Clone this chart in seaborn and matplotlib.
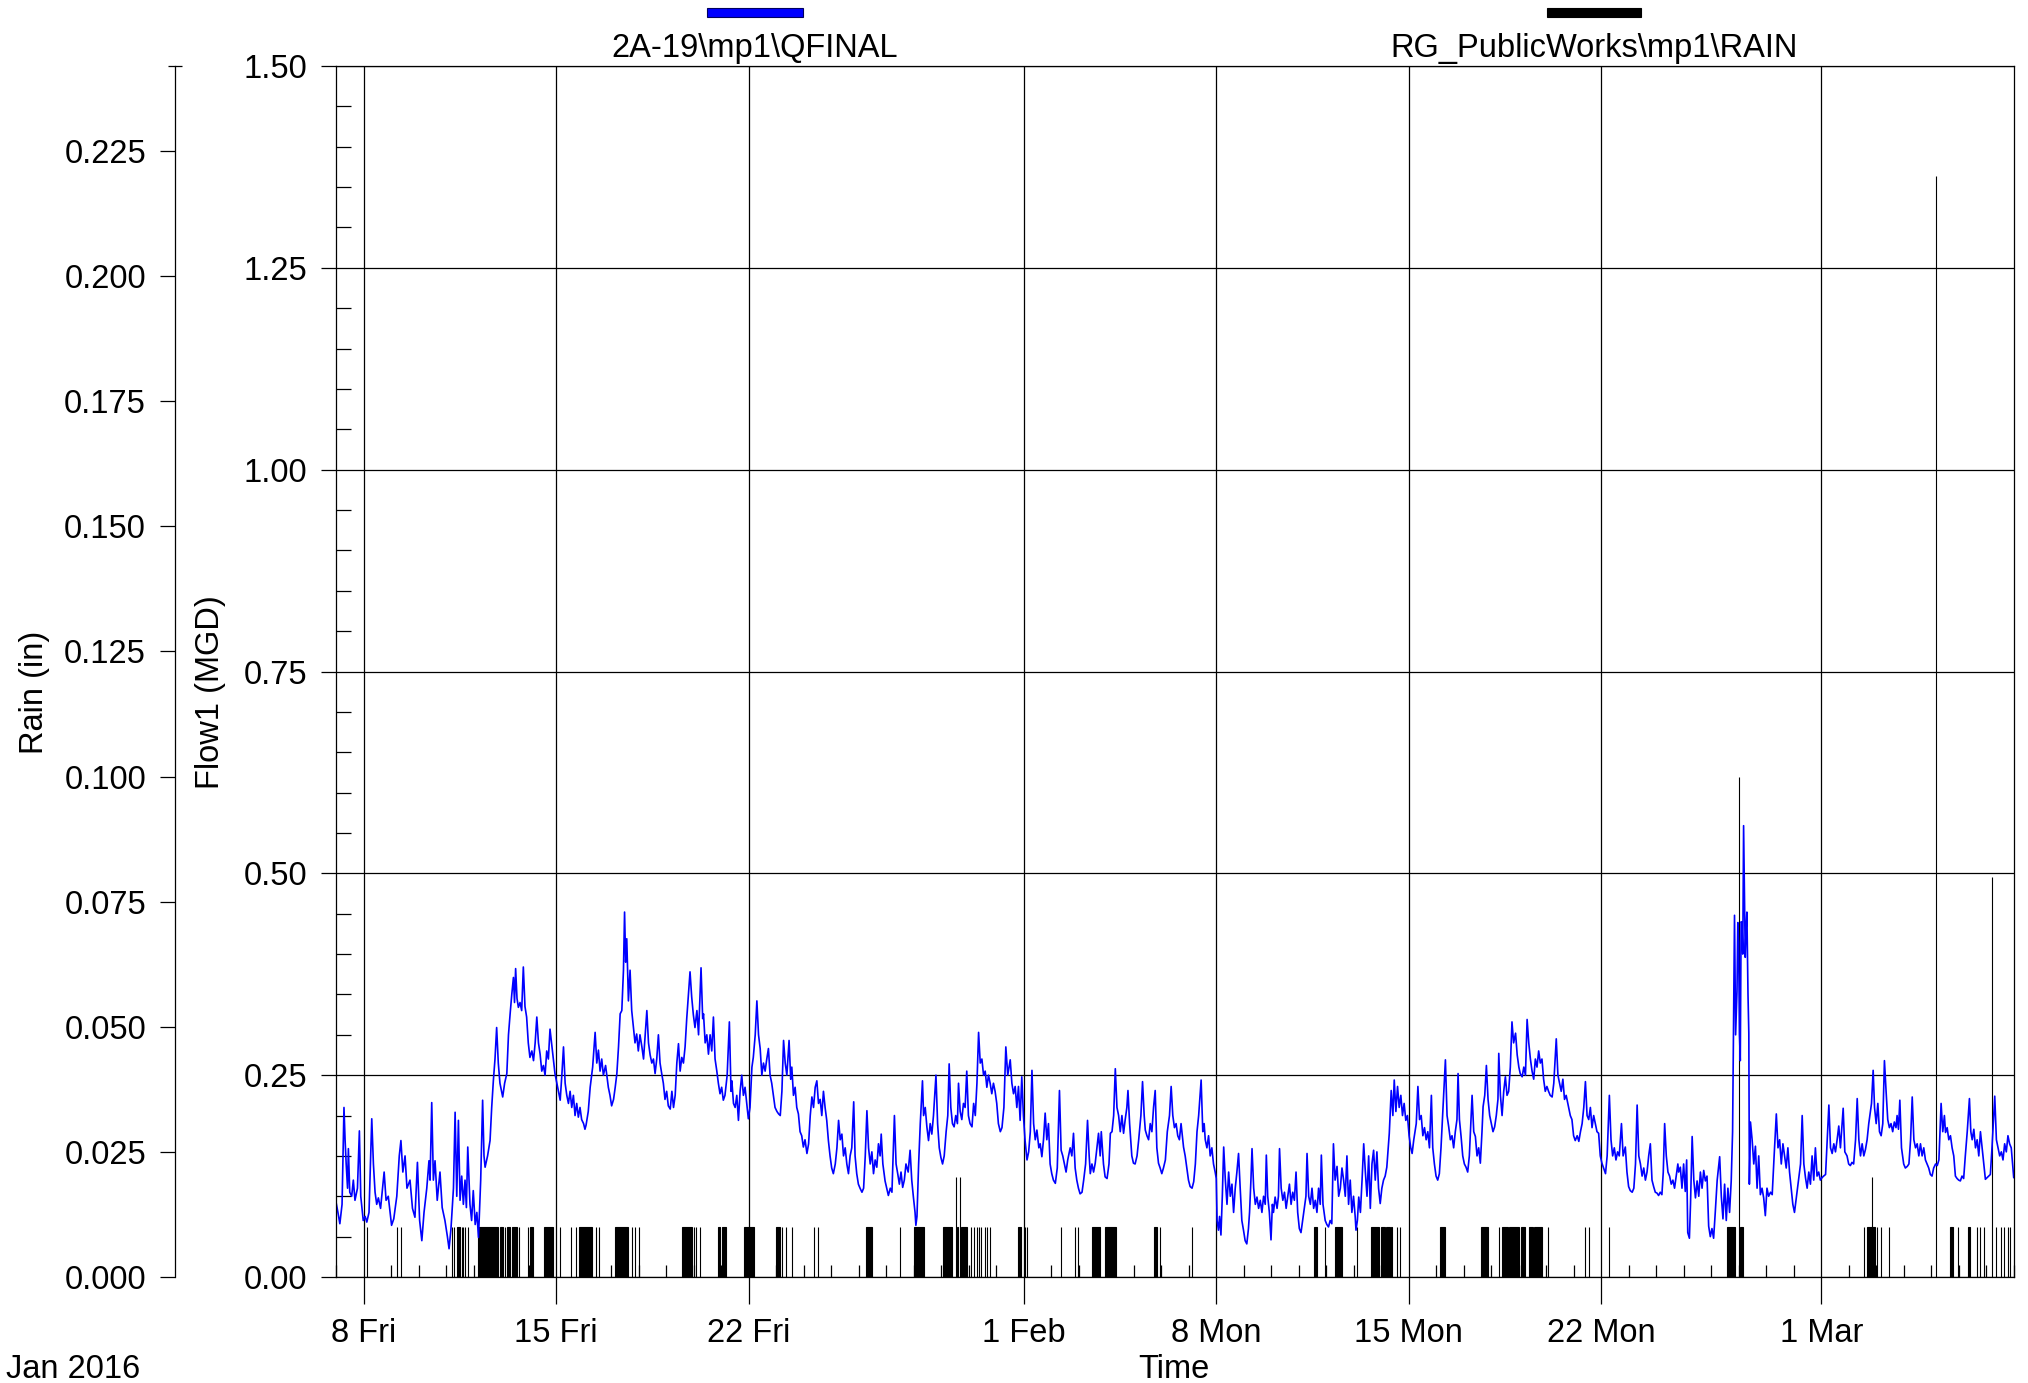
import numpy as np
import pandas as pd
import matplotlib
matplotlib.use("Agg")
import matplotlib.pyplot as plt
import matplotlib.dates as mdates
from matplotlib.ticker import FixedLocator, MultipleLocator, FormatStrFormatter
from matplotlib.patches import Rectangle
import seaborn as sns

# ---------------- data ----------------
START = "2016-01-07"          # left edge of the time axis
END = "2016-03-08"

series_names = [r"2A-19\mp1\QFINAL", r"RG_PublicWorks\mp1\RAIN"]
series_colors = ["#0000FF", "#000000"]

xtick_dates = ["2016-01-08", "2016-01-15", "2016-01-22", "2016-02-01",
               "2016-02-08", "2016-02-15", "2016-02-22", "2016-03-01"]
xtick_labels = ["8 Fri", "15 Fri", "22 Fri", "1 Feb", "8 Mon", "15 Mon", "22 Mon", "1 Mar"]
flow_ticks = [0.00, 0.25, 0.50, 0.75, 1.00, 1.25, 1.50]
rain_ticks = [0.000, 0.025, 0.050, 0.075, 0.100, 0.125, 0.150, 0.175, 0.200, 0.225]
rain_top = 0.242

# flow (MGD), time in days since START
flow_day = [
    0.00,0.07,0.14,0.22,0.29,0.33,0.37,0.42,0.45,0.50,
    0.57,0.63,0.69,0.78,0.85,0.90,0.99,1.06,1.12,1.20,
    1.30,1.36,1.42,1.48,1.54,1.62,1.75,1.82,1.90,2.02,
    2.10,2.21,2.30,2.36,2.43,2.51,2.58,2.69,2.78,2.87,
    2.96,3.04,3.12,3.20,3.30,3.38,3.42,3.48,3.54,3.60,
    3.68,3.78,3.86,3.96,4.05,4.11,4.18,4.27,4.33,4.39,
    4.45,4.51,4.57,4.63,4.69,4.74,4.79,4.87,4.93,4.99,
    5.06,5.12,5.18,5.26,5.33,5.38,5.42,5.51,5.60,5.66,
    5.72,5.78,5.84,5.90,5.96,6.06,6.13,6.21,6.27,6.33,
    6.39,6.45,6.49,6.53,6.58,6.63,6.69,6.75,6.81,6.87,
    6.93,6.99,7.05,7.12,7.18,7.24,7.30,7.36,7.42,7.48,
    7.54,7.60,7.66,7.72,7.78,7.84,7.90,7.96,8.03,8.15,
    8.21,8.27,8.33,8.39,8.45,8.51,8.57,8.63,8.69,8.75,
    8.81,8.87,8.93,9.00,9.05,9.09,9.17,9.24,9.33,9.42,
    9.48,9.54,9.60,9.66,9.72,9.80,9.90,9.96,10.02,10.09,
    10.15,10.21,10.27,10.33,10.39,10.45,10.49,10.53,10.57,10.63,
    10.69,10.75,10.81,10.87,10.93,10.99,11.05,11.12,11.18,11.24,
    11.30,11.36,11.42,11.48,11.54,11.60,11.66,11.72,11.78,11.84,
    11.90,11.96,12.02,12.08,12.15,
    12.21,12.27,12.33,12.39,12.45,12.51,12.57,12.63,12.69,12.75,
    12.81,12.87,12.93,12.99,13.05,13.12,13.18,13.27,13.33,13.36,
    13.42,13.48,13.54,13.60,13.66,13.72,13.78,13.84,13.90,13.96,
    14.02,14.08,14.14,14.22,14.30,14.36,14.39,14.45,14.51,14.57,
    14.63,14.69,14.75,14.81,14.87,14.93,14.99,15.05,15.12,15.17,
    15.24,15.30,15.36,15.42,15.48,15.54,15.60,15.66,15.72,15.78,
    15.84,15.90,15.96,16.03,16.09,16.15,16.21,16.27,16.33,16.39,
    16.47,16.53,16.57,16.63,16.69,16.75,16.81,16.87,16.93,16.99,
    17.05,17.12,17.18,17.24,17.30,17.36,17.42,17.48,17.54,17.60,
    17.66,17.72,17.78,17.84,17.90,17.96,18.02,18.08,18.15,18.21,
    18.27,18.33,18.39,18.45,18.51,18.57,18.63,18.69,18.75,18.82,
    18.87,18.93,18.99,19.05,19.12,19.18,19.24,19.30,19.36,19.42,
    19.48,19.54,19.60,19.66,19.72,19.78,19.82,19.88,19.96,20.02,
    20.08,20.15,20.21,20.30,20.36,20.42,20.48,20.54,20.60,20.66,
    20.72,20.80,20.87,20.93,20.99,21.05,21.08,21.12,21.18,21.24,
    21.32,21.36,21.42,21.48,21.54,21.60,21.66,21.72,21.81,21.87,
    21.93,21.99,22.05,22.11,22.18,22.24,22.29,22.35,22.41,22.47,
    22.53,22.59,22.63,22.69,22.75,22.81,22.87,22.93,22.99,23.05,
    23.12,23.18,23.24,23.30,23.36,23.42,23.48,23.54,23.60,23.66,
    23.72,23.78,23.84,23.90,23.96,24.02,24.08,24.15,24.21,24.28,
    24.35,
    24.42,24.51,24.57,24.63,24.69,24.75,24.81,24.87,24.93,24.99,
    25.05,25.12,25.18,25.24,25.30,25.36,25.42,25.48,25.55,25.60,
    25.66,25.72,25.78,25.84,25.90,25.96,26.02,26.08,26.15,26.22,
    26.30,26.36,26.42,26.48,26.54,26.60,26.69,26.75,26.81,26.87,
    26.93,26.99,27.05,27.12,27.18,27.25,27.32,27.38,27.42,27.48,
    27.54,27.60,27.66,27.72,27.78,27.82,27.90,27.96,28.03,28.10,
    28.15,28.21,28.27,28.33,28.39,28.45,28.51,28.57,28.63,28.69,
    28.75,28.79,28.85,28.93,28.99,29.05,29.12,29.18,29.26,29.32,
    29.38,29.42,29.48,29.54,29.60,29.66,29.72,29.78,29.84,29.90,
    29.96,30.02,30.08,30.15,30.22,30.30,30.36,30.42,30.48,30.54,
    30.60,30.66,30.72,30.81,30.87,30.93,30.99,31.05,31.12,31.18,
    31.24,31.30,31.36,31.45,31.51,31.56,31.60,31.66,31.72,31.78,
    31.84,31.90,31.96,32.00,32.03,32.08,32.12,32.17,32.22,32.27,
    32.33,32.39,32.45,32.51,32.57,32.63,32.69,32.75,32.81,32.87,
    32.93,32.99,33.05,33.11,33.17,33.21,33.26,33.30,33.36,33.42,
    33.48,33.54,33.60,33.66,33.72,33.78,33.82,33.87,33.93,33.99,
    34.04,34.08,34.14,34.21,34.26,34.30,34.36,34.42,34.48,34.54,
    34.60,34.66,34.72,34.78,34.84,34.90,34.96,35.02,35.08,35.14,
    35.20,35.26,35.30,35.36,35.42,35.48,35.54,35.60,35.66,35.72,
    35.78,35.82,35.88,35.96,36.02,36.08,36.14,36.20,36.26,36.32,
    36.39,36.45,36.51,36.57,36.63,
    36.69,36.75,36.81,36.87,36.93,36.99,37.05,37.08,37.13,37.18,
    37.24,37.30,37.36,37.42,37.48,37.54,37.60,37.66,37.72,37.78,
    37.84,37.90,37.96,38.02,38.08,38.14,38.20,38.25,38.29,38.36,
    38.42,38.47,38.53,38.59,38.65,38.71,38.77,38.83,38.89,38.95,
    39.01,39.07,39.12,39.18,39.27,39.33,39.39,39.45,39.51,39.57,
    39.63,39.69,39.75,39.82,39.87,39.93,39.99,40.05,40.11,40.17,
    40.23,40.29,40.33,40.39,40.45,40.51,40.57,40.63,40.69,40.75,
    40.79,40.84,40.90,40.96,41.02,41.08,41.14,41.20,41.30,41.36,
    41.42,41.48,41.54,41.60,41.66,41.70,41.76,41.82,41.88,41.94,
    42.00,42.06,42.12,42.18,42.24,42.27,42.33,42.39,42.45,42.51,
    42.57,42.63,42.69,42.75,42.81,42.88,42.94,43.00,43.05,43.12,
    43.18,43.24,43.30,43.36,43.42,43.48,43.54,43.60,43.66,43.72,
    43.78,43.84,43.90,43.96,44.02,44.08,44.14,44.21,44.27,44.36,
    44.42,44.48,44.54,44.60,44.66,44.72,44.81,44.87,44.93,44.99,
    45.05,45.12,45.18,45.24,45.30,45.36,45.42,45.48,45.54,45.60,
    45.66,45.72,45.78,45.84,45.90,45.96,46.02,46.08,46.15,46.21,
    46.29,46.35,46.41,46.47,46.53,46.59,46.65,46.73,46.79,46.87,
    46.93,46.99,47.05,47.12,47.18,47.24,47.30,47.36,47.42,47.48,
    47.54,47.60,47.66,47.72,47.78,47.84,47.90,47.96,48.02,48.08,
    48.14,48.20,48.25,48.30,48.36,48.42,48.48,48.54,48.60,48.66,
    48.72,48.78,48.81,
    48.87,48.93,48.99,49.05,49.10,49.14,49.20,49.24,49.30,49.36,
    49.42,49.48,49.54,49.60,49.66,49.72,49.78,49.84,49.90,49.96,
    50.02,50.08,50.14,50.21,50.30,50.36,50.42,50.48,50.54,50.60,
    50.66,50.72,50.77,50.79,50.84,50.88,50.93,50.96,50.99,51.02,
    51.05,51.08,51.11,51.14,51.17,51.20,51.23,51.26,51.29,51.33,
    51.36,51.38,51.42,51.48,51.54,51.60,51.66,51.72,51.78,51.84,
    51.90,51.96,52.02,52.08,52.15,52.21,52.28,52.36,52.42,52.48,
    52.54,52.60,52.66,52.72,52.78,52.84,52.90,52.96,53.02,53.24,
    53.30,53.36,53.42,53.48,53.54,53.60,53.66,53.72,53.78,53.84,
    53.90,53.96,54.02,54.08,54.15,54.27,54.33,54.39,54.45,54.51,
    54.57,54.63,54.69,54.79,54.85,54.93,54.99,55.05,55.11,55.17,
    55.24,55.30,55.36,55.42,55.48,55.54,55.60,55.66,55.72,55.76,
    55.82,55.88,55.93,55.99,56.05,56.11,56.17,56.23,56.29,56.35,
    56.41,56.47,56.53,56.59,56.65,56.71,56.75,56.80,56.85,56.91,
    56.99,57.05,57.12,57.18,57.24,57.30,57.36,57.42,57.48,57.54,
    57.60,57.66,57.72,57.78,57.84,57.90,57.96,58.02,58.08,58.15,
    58.21,58.27,58.35,58.41,58.47,58.51,58.57,58.63,58.69,58.75,
    58.81,58.87,58.93,58.99,59.05,59.11,59.17,59.23,59.30,59.38,
    59.43,59.48,59.54,59.60,59.66,59.72,59.78,59.84,59.90,59.96,
    60.02,60.08,60.14,60.20,60.26,60.30,60.36,60.42,60.48,60.54,
    60.60,60.66,60.72,60.78,60.84,60.90,60.95,60.99,
]
flow_mgd = [
    0.093,0.080,0.066,0.090,0.210,0.170,0.140,0.110,0.159,0.105,
    0.100,0.120,0.095,0.110,0.181,0.100,0.070,0.075,0.068,0.080,
    0.196,0.140,0.105,0.090,0.098,0.085,0.130,0.095,0.100,0.064,
    0.072,0.100,0.150,0.169,0.130,0.150,0.110,0.120,0.085,0.074,
    0.142,0.070,0.045,0.080,0.110,0.144,0.120,0.216,0.120,0.144,
    0.095,0.130,0.086,0.070,0.050,0.035,0.060,0.110,0.204,0.100,
    0.194,0.095,0.125,0.090,0.120,0.086,0.161,0.090,0.070,0.107,
    0.065,0.080,0.049,0.120,0.219,0.150,0.136,0.150,0.169,0.210,
    0.243,0.270,0.309,0.265,0.240,0.223,0.240,0.252,0.300,0.326,
    0.350,0.371,0.340,0.382,0.345,0.334,0.340,0.330,0.384,0.335,
    0.322,0.290,0.272,0.280,0.268,0.290,0.322,0.290,0.276,0.255,
    0.262,0.250,0.280,0.270,0.307,0.289,0.270,0.252,0.240,0.219,
    0.250,0.285,0.240,0.225,0.215,0.230,0.210,0.225,0.200,0.215,
    0.198,0.210,0.195,0.190,0.183,0.188,0.205,0.235,0.260,0.303,
    0.265,0.281,0.255,0.270,0.250,0.262,0.235,0.225,0.212,0.220,
    0.235,0.252,0.285,0.326,0.330,0.380,0.452,0.390,0.419,0.342,
    0.380,0.330,0.310,0.290,0.301,0.280,0.300,0.285,0.270,0.300,
    0.330,0.290,0.275,0.265,0.270,0.252,0.270,0.300,0.265,0.252,
    0.240,0.220,0.230,0.212,0.208,
    0.230,0.210,0.225,0.265,0.289,0.255,0.272,0.265,0.285,0.320,
    0.350,0.378,0.347,0.325,0.309,0.330,0.300,0.383,0.320,0.326,
    0.290,0.300,0.276,0.300,0.280,0.322,0.270,0.256,0.240,0.227,
    0.235,0.219,0.225,0.250,0.316,0.230,0.243,0.215,0.210,0.225,
    0.194,0.230,0.250,0.225,0.235,0.215,0.196,0.210,0.260,0.272,
    0.300,0.342,0.300,0.283,0.250,0.265,0.255,0.270,0.283,0.250,
    0.240,0.225,0.210,0.205,0.202,0.200,0.230,0.293,0.265,0.250,
    0.293,0.245,0.260,0.225,0.235,0.210,0.202,0.180,0.175,0.161,
    0.170,0.153,0.165,0.200,0.223,0.210,0.235,0.243,0.215,0.220,
    0.200,0.230,0.210,0.194,0.169,0.150,0.135,0.128,0.140,0.160,
    0.194,0.170,0.177,0.150,0.160,0.140,0.128,0.150,0.160,0.217,
    0.150,0.128,0.115,0.110,0.105,0.110,0.150,0.206,0.160,0.140,
    0.155,0.128,0.145,0.136,0.165,0.150,0.177,0.140,0.119,0.110,
    0.101,0.110,0.105,0.200,0.140,0.128,0.115,0.130,0.111,0.120,
    0.140,0.130,0.157,0.120,0.099,0.080,0.064,0.075,0.140,0.190,
    0.243,0.200,0.210,0.186,0.169,0.190,0.177,0.200,0.250,0.190,
    0.160,0.148,0.140,0.150,0.180,0.200,0.264,0.210,0.190,0.186,
    0.200,0.190,0.240,0.205,0.195,0.215,0.210,0.255,0.200,0.190,
    0.186,0.215,0.200,0.240,0.303,0.265,0.270,0.250,0.255,0.235,
    0.250,0.240,0.227,0.240,0.230,0.215,0.190,0.180,0.185,0.210,
    0.285,
    0.250,0.269,0.240,0.227,0.236,0.210,0.236,0.194,0.248,0.200,
    0.169,0.145,0.155,0.180,0.256,0.190,0.170,0.182,0.160,0.165,
    0.149,0.170,0.203,0.170,0.190,0.140,0.128,0.120,0.116,0.135,
    0.231,0.157,0.150,0.140,0.130,0.145,0.160,0.150,0.178,0.135,
    0.120,0.110,0.103,0.105,0.120,0.140,0.194,0.150,0.128,0.140,
    0.130,0.141,0.160,0.178,0.150,0.180,0.140,0.124,0.122,0.140,
    0.178,0.180,0.200,0.258,0.210,0.200,0.180,0.200,0.178,0.195,
    0.210,0.231,0.190,0.150,0.141,0.140,0.150,0.170,0.200,0.242,
    0.200,0.182,0.175,0.170,0.190,0.180,0.210,0.231,0.160,0.141,
    0.135,0.128,0.135,0.145,0.180,0.200,0.236,0.200,0.185,0.190,
    0.175,0.170,0.190,0.161,0.150,0.135,0.120,0.112,0.110,0.118,
    0.140,0.180,0.200,0.244,0.180,0.190,0.170,0.160,0.175,0.150,
    0.160,0.140,0.130,0.122,0.070,0.058,0.075,0.052,0.100,0.161,
    0.120,0.090,0.130,0.100,0.115,0.080,0.110,0.130,0.153,0.110,
    0.070,0.058,0.045,0.041,0.060,0.080,0.120,0.159,0.110,0.090,
    0.099,0.085,0.095,0.080,0.100,0.090,0.151,0.100,0.080,0.046,
    0.090,0.080,0.099,0.085,0.100,0.159,0.110,0.095,0.105,0.085,
    0.100,0.115,0.090,0.105,0.095,0.130,0.080,0.060,0.055,0.070,
    0.085,0.100,0.153,0.100,0.090,0.110,0.085,0.095,0.080,0.110,
    0.090,0.151,0.090,0.070,0.065,0.062,0.070,0.066,0.165,0.120,
    0.137,0.100,0.110,0.135,0.120,
    0.100,0.150,0.090,0.120,0.080,0.100,0.075,0.058,0.070,0.099,
    0.080,0.120,0.165,0.130,0.100,0.150,0.085,0.140,0.157,0.120,
    0.155,0.110,0.091,0.110,0.120,0.125,0.136,0.160,0.178,0.231,
    0.200,0.244,0.205,0.236,0.210,0.225,0.200,0.215,0.194,0.200,
    0.175,0.160,0.153,0.170,0.190,0.236,0.195,0.200,0.175,0.185,
    0.170,0.180,0.160,0.225,0.160,0.140,0.125,0.120,0.128,0.160,
    0.200,0.240,0.269,0.200,0.186,0.170,0.175,0.160,0.180,0.195,
    0.252,0.195,0.174,0.150,0.140,0.136,0.130,0.150,0.225,0.180,
    0.174,0.150,0.160,0.141,0.180,0.211,0.225,0.262,0.220,0.200,
    0.190,0.180,0.186,0.200,0.220,0.277,0.225,0.200,0.230,0.248,
    0.225,0.230,0.260,0.316,0.290,0.302,0.275,0.260,0.252,0.248,
    0.260,0.250,0.319,0.290,0.270,0.255,0.245,0.270,0.260,0.280,
    0.265,0.270,0.245,0.230,0.236,0.230,0.225,0.223,0.240,0.295,
    0.250,0.240,0.230,0.245,0.220,0.225,0.210,0.200,0.195,0.175,
    0.169,0.175,0.168,0.180,0.190,0.210,0.242,0.200,0.195,0.210,
    0.185,0.200,0.190,0.180,0.178,0.150,0.141,0.135,0.128,0.150,
    0.225,0.170,0.150,0.160,0.145,0.155,0.150,0.190,0.150,0.161,
    0.130,0.112,0.107,0.105,0.110,0.140,0.213,0.150,0.140,0.125,
    0.135,0.120,0.130,0.150,0.165,0.120,0.112,0.105,0.104,0.101,
    0.105,0.102,0.130,0.190,0.150,0.130,0.125,0.115,0.120,0.110,
    0.125,0.140,0.130,
    0.136,0.110,0.140,0.106,0.145,0.055,0.048,0.090,0.174,0.120,
    0.098,0.119,0.100,0.130,0.110,0.132,0.119,0.125,0.063,0.050,
    0.060,0.048,0.080,0.120,0.149,0.100,0.072,0.115,0.070,0.110,
    0.080,0.119,0.180,0.260,0.448,0.300,0.354,0.439,0.414,0.300,
    0.268,0.440,0.439,0.400,0.559,0.482,0.396,0.430,0.452,0.350,
    0.302,0.115,0.192,0.170,0.140,0.162,0.110,0.150,0.102,0.110,
    0.098,0.076,0.110,0.100,0.105,0.102,0.150,0.202,0.160,0.170,
    0.140,0.165,0.150,0.135,0.160,0.130,0.110,0.090,0.080,0.140,
    0.200,0.140,0.123,0.110,0.130,0.115,0.150,0.120,0.160,0.125,
    0.130,0.120,0.123,0.125,0.127,0.213,0.160,0.153,0.165,0.155,
    0.170,0.187,0.160,0.209,0.155,0.150,0.140,0.138,0.142,0.140,
    0.170,0.221,0.170,0.150,0.165,0.150,0.158,0.170,0.190,0.200,
    0.215,0.256,0.210,0.190,0.215,0.180,0.175,0.190,0.268,0.230,
    0.195,0.185,0.190,0.180,0.192,0.185,0.200,0.183,0.219,0.160,
    0.140,0.135,0.137,0.140,0.170,0.223,0.170,0.160,0.165,0.150,
    0.165,0.150,0.160,0.145,0.140,0.135,0.127,0.125,0.135,0.140,
    0.138,0.145,0.215,0.180,0.200,0.179,0.185,0.170,0.175,0.160,
    0.150,0.125,0.122,0.120,0.119,0.125,0.122,0.150,0.180,0.221,
    0.180,0.170,0.183,0.160,0.170,0.150,0.180,0.160,0.140,0.121,
    0.123,0.125,0.127,0.160,0.200,0.224,0.170,0.160,0.150,0.155,
    0.145,0.165,0.155,0.175,0.165,0.160,0.140,0.123,
]

# rain (in): start / end of each recorded burst, days since START
rain_start_day = [
    1.12, 2.23, 2.37, 4.22, 4.28, 4.40, 4.57, 4.63, 4.69, 4.79,
    5.17, 5.96, 6.15, 6.21, 6.40, 6.66, 6.98, 7.05, 7.56, 8.15,
    8.55, 8.73, 8.85, 9.45, 9.55, 10.15, 10.77, 10.87, 11.00, 12.57,
    13.02, 13.08, 13.22, 13.88, 14.04, 14.84, 15.99, 16.22, 16.35, 16.59,
    17.39, 17.54, 19.27, 20.51, 21.03, 22.08, 22.53, 22.56, 22.68, 22.72,
    23.09, 23.18, 23.30, 23.38, 23.45, 23.60, 23.66, 23.78, 24.81, 25.05,
    25.13, 26.36, 26.87, 26.96, 27.48, 27.96, 29.72, 29.96, 31.12, 35.54,
    35.96, 36.33, 37.12, 37.64, 38.00, 38.18, 38.36, 38.56, 38.69, 40.15,
    41.63, 42.27, 42.39, 42.66, 43.06, 43.38, 43.56, 44.05, 45.42, 45.54,
    46.27, 50.57, 50.99, 51.05, 55.56, 55.66, 55.85, 56.02, 56.16, 56.44,
    58.18, 58.67, 58.96, 59.32, 59.65, 59.77, 59.90, 60.20, 60.33, 60.51,
    60.63, 60.77, 60.87,
]
rain_end_day = [
    1.12, 2.23, 2.37, 4.22, 4.28, 4.50, 4.57, 4.63, 4.69, 4.79,
    5.90, 6.08, 6.15, 6.33, 6.57, 6.66, 6.98, 7.17, 7.90, 8.15,
    8.55, 8.73, 9.30, 9.45, 9.55, 10.62, 10.77, 10.87, 11.00, 12.95,
    13.02, 13.08, 13.22, 13.97, 14.17, 15.19, 16.15, 16.22, 16.35, 16.59,
    17.39, 17.54, 19.48, 20.51, 21.36, 22.38, 22.53, 22.60, 22.68, 22.93,
    23.09, 23.18, 23.30, 23.38, 23.45, 23.60, 23.66, 23.78, 24.90, 25.05,
    25.13, 26.36, 26.87, 26.96, 27.76, 28.35, 29.84, 29.96, 31.12, 35.68,
    35.96, 36.57, 37.12, 37.90, 38.12, 38.30, 38.39, 38.56, 38.69, 40.33,
    41.87, 42.27, 42.60, 43.00, 43.24, 43.50, 43.84, 44.05, 45.42, 45.54,
    46.27, 50.84, 50.99, 51.15, 55.56, 55.93, 55.85, 56.02, 56.16, 56.44,
    58.18, 58.79, 58.96, 59.39, 59.65, 59.77, 59.90, 60.20, 60.33, 60.51,
    60.63, 60.77, 60.87,
]
rain_in = [
    0.01, 0.01, 0.01, 0.01, 0.01, 0.01, 0.01, 0.01, 0.01, 0.01,
    0.01, 0.01, 0.01, 0.01, 0.01, 0.01, 0.01, 0.01, 0.01, 0.01,
    0.01, 0.01, 0.01, 0.01, 0.01, 0.01, 0.01, 0.01, 0.01, 0.01,
    0.01, 0.01, 0.01, 0.01, 0.01, 0.01, 0.01, 0.01, 0.01, 0.01,
    0.01, 0.01, 0.01, 0.01, 0.01, 0.01, 0.02, 0.01, 0.02, 0.01,
    0.01, 0.01, 0.01, 0.01, 0.01, 0.01, 0.01, 0.01, 0.01, 0.01,
    0.01, 0.01, 0.01, 0.01, 0.01, 0.01, 0.01, 0.01, 0.01, 0.01,
    0.01, 0.01, 0.01, 0.01, 0.01, 0.01, 0.01, 0.01, 0.01, 0.01,
    0.01, 0.01, 0.01, 0.01, 0.01, 0.01, 0.01, 0.01, 0.01, 0.01,
    0.01, 0.01, 0.10, 0.01, 0.01, 0.01, 0.02, 0.01, 0.01, 0.01,
    0.22, 0.01, 0.01, 0.01, 0.01, 0.01, 0.01, 0.08, 0.01, 0.01,
    0.01, 0.01, 0.01,
]

assert len(flow_day) == len(flow_mgd), (len(flow_day), len(flow_mgd))
assert len(rain_start_day) == len(rain_end_day) == len(rain_in)

# ---------------- style ----------------
sns.set_style("ticks", rc={
    "axes.edgecolor": "black", "text.color": "black", "axes.labelcolor": "black",
    "xtick.color": "black", "ytick.color": "black",
})
plt.rcParams["font.family"] = ["Liberation Sans", "DejaVu Sans"]
FS = 23.5

W, H = 2028, 1383
fig = plt.figure(figsize=(W / 100, H / 100), dpi=100)
ax = fig.add_axes([336 / W, 1 - 1277 / H, 1678 / W, 1211 / H])
ax2 = ax.twinx()
ax.set_zorder(2)
ax2.set_zorder(1)
ax.patch.set_visible(False)

t0 = pd.Timestamp(START)
flow_df = pd.DataFrame({
    "time": t0 + pd.to_timedelta(np.array(flow_day), unit="D"),
    "flow": flow_mgd,
})
sns.lineplot(data=flow_df, x="time", y="flow", ax=ax, color=series_colors[0],
             linewidth=1.2, estimator=None, sort=False)

rain_t = mdates.date2num(t0 + pd.to_timedelta(np.array(rain_start_day), unit="D"))
rain_w = np.array(rain_end_day) - np.array(rain_start_day)
ax2.bar(rain_t, rain_in, width=rain_w, align="edge", color=series_colors[1],
        edgecolor=series_colors[1], linewidth=0.8)

# ---------------- flow axis ----------------
ax.set_xlim(mdates.date2num(t0), mdates.date2num(pd.Timestamp(END)))
ax.set_ylim(0, 1.5)
ax.set_xlabel("")
ax.set_ylabel("")
ax.set_yticks(flow_ticks)
ax.yaxis.set_major_formatter(FormatStrFormatter("%.2f"))
ax.yaxis.set_minor_locator(MultipleLocator(0.05))
ax.set_xticks(mdates.date2num(pd.to_datetime(xtick_dates)))
ax.set_xticklabels(xtick_labels)
ax.xaxis.set_minor_locator(mdates.DayLocator())
ax.tick_params(axis="x", which="major", direction="out", length=19.5, width=0.9,
               pad=10, labelsize=FS, bottom=True, top=False)
ax.tick_params(axis="x", which="minor", direction="in", length=8.6, width=0.9,
               bottom=True, top=False)
ax.tick_params(axis="y", which="major", direction="out", length=10.8, width=0.9,
               pad=10, labelsize=FS, left=True, right=False)
ax.tick_params(axis="y", which="minor", direction="in", length=10.8, width=0.9,
               left=True, right=False)
ax.grid(True, which="major", color="black", linewidth=0.9)
for s in ax.spines.values():
    s.set_visible(True)
    s.set_color("black")
    s.set_linewidth(0.9)

# ---------------- rain axis ----------------
ax2.set_ylim(0, rain_top)
ax2.yaxis.tick_left()
ax2.spines["left"].set_position(("axes", -161 / 1678))
for s in ["right", "top", "bottom"]:
    ax2.spines[s].set_visible(False)
ax2.spines["left"].set_color("black")
ax2.spines["left"].set_linewidth(0.9)
ax2.set_yticks(rain_ticks)
ax2.yaxis.set_major_formatter(FormatStrFormatter("%.3f"))
ax2.yaxis.set_minor_locator(FixedLocator([0.0, rain_top]))
ax2.tick_params(axis="y", which="major", direction="out", length=10.8, width=0.9,
                pad=10, labelsize=FS, left=True, right=False, labelleft=True, labelright=False)
ax2.tick_params(axis="y", which="minor", direction="inout", length=10, width=0.9,
                left=True, right=False)
ax2.set_ylabel("")
ax2.grid(False)

# ---------------- labels ----------------
fig.text(211 / W, 1 - 692 / H, "Flow1 (MGD)", rotation=90, ha="center", va="center", fontsize=FS)
fig.text(34 / W, 1 - 692 / H, "Rain (in)", rotation=90, ha="center", va="center", fontsize=FS)
fig.text(1174 / W, 1 - 1369 / H, "Time", ha="center", va="center", fontsize=FS)
fig.text(6 / W, 1 - 1369 / H, "Jan 2016", ha="left", va="center", fontsize=FS)

# legend keys at the top
fig.add_artist(Rectangle((707 / W, 1 - 17 / H), 96 / W, 9 / H, transform=fig.transFigure,
                         facecolor=series_colors[0], edgecolor="#000060", linewidth=0.8))
fig.add_artist(Rectangle((1547 / W, 1 - 17 / H), 94 / W, 9 / H, transform=fig.transFigure,
                         facecolor=series_colors[1], edgecolor="black", linewidth=0.8))
fig.text(755 / W, 1 - 48 / H, series_names[0], ha="center", va="center", fontsize=FS)
fig.text(1594 / W, 1 - 48 / H, series_names[1], ha="center", va="center", fontsize=FS)

fig.savefig("out.png", dpi=100, facecolor="white")
